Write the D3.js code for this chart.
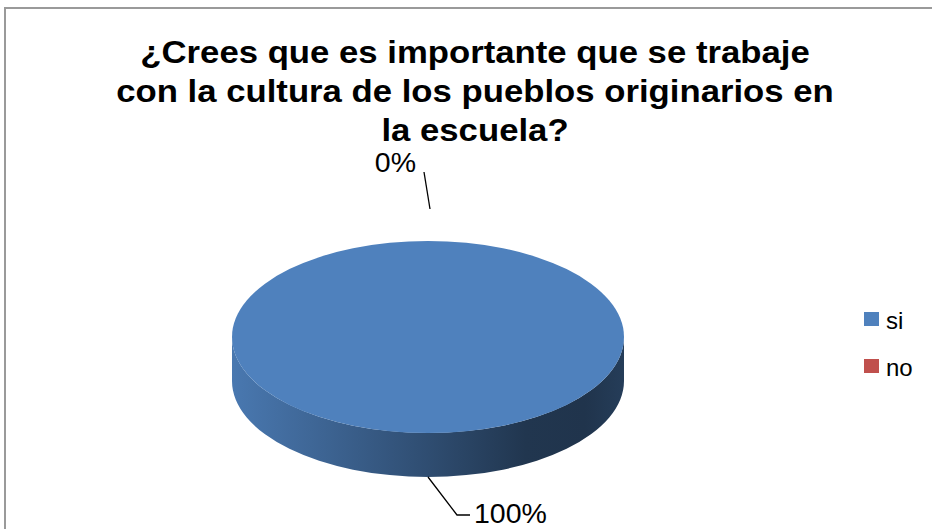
<!DOCTYPE html>
<html>
<head>
<meta charset="utf-8">
<script src="https://cdn.jsdelivr.net/npm/d3@7/dist/d3.min.js"></script>
<style>
  html, body { margin: 0; padding: 0; background: #fff; }
  svg { display: block; }
  text { font-family: "Liberation Sans", Arial, sans-serif; fill: #000; }
</style>
</head>
<body>
<svg id="chart" width="932" height="529"></svg>
<script>
// Survey answers
const categories = ["si", "no"];
const values = [100, 0];
const colors = ["#4F81BD", "#C0504D"];
const titleLines = [
  "¿Crees que es importante que se trabaje",
  "con la cultura de los pueblos originarios en",
  "la escuela?"
];

const W = 932, H = 529;
const svg = d3.select("#chart");

// chart frame
svg.append("rect")
  .attr("x", 5).attr("y", 8)
  .attr("width", W + 100).attr("height", H + 100)
  .attr("fill", "#fff")
  .attr("stroke", "#9a9a9a").attr("stroke-width", 2);

// title (slightly widened lettering)
const titleX = 475, titleSX = 1.12;
const title = svg.append("text")
  .attr("text-anchor", "middle")
  .attr("transform", `translate(${titleX},0) scale(${titleSX},1)`)
  .style("font-weight", "bold")
  .style("font-size", "31px");
titleLines.forEach((t, i) => {
  title.append("tspan").attr("x", 0).attr("y", 63 + i * 39).text(t);
});

// 3D pie geometry
const cx = 428, cy = 337, rx = 196, ry = 96, depth = 44;
const total = d3.sum(values);
const pct = d3.format(".0%");

const pie = d3.pie().sort(null).value(d => d.v);
const arcs = pie(categories.map((c, i) => ({ c, v: values[i], i })));

const px = a => cx + rx * Math.sin(a);
const py = a => cy - ry * Math.cos(a);

// side wall shading
const defs = svg.append("defs");
const grads = colors.map((col, i) => {
  const base = d3.color(col);
  const g = defs.append("linearGradient")
    .attr("id", "side" + i)
    .attr("gradientUnits", "userSpaceOnUse")
    .attr("x1", cx - rx).attr("x2", cx + rx).attr("y1", 0).attr("y2", 0);
  const stops = [[0, 0.93], [0.2, 0.8], [0.5, 0.6], [0.75, 0.42], [0.9, 0.4], [1, 0.47]];
  stops.forEach(([o, k]) => {
    const c = d3.rgb(base.r * k, base.g * k, base.b * k);
    g.append("stop").attr("offset", o).attr("stop-color", c.formatHex());
  });
  return "url(#side" + i + ")";
});

// front-facing part of each slice's side wall
const sideG = svg.append("g");
arcs.forEach(d => {
  const s = Math.max(d.startAngle, Math.PI / 2);
  const e = Math.min(d.endAngle, 3 * Math.PI / 2);
  if (e <= s) return;
  const large = (e - s) > Math.PI ? 1 : 0;
  const path =
    `M${px(s)},${py(s)}` +
    `A${rx},${ry} 0 ${large} 1 ${px(e)},${py(e)}` +
    `L${px(e)},${py(e) + depth}` +
    `A${rx},${ry} 0 ${large} 0 ${px(s)},${py(s) + depth}Z`;
  sideG.append("path").attr("d", path).attr("fill", grads[d.data.i]);
});

// top face
const arc = d3.arc().innerRadius(0).outerRadius(rx);
svg.append("g")
  .attr("transform", `translate(${cx},${cy}) scale(1,${ry / rx})`)
  .selectAll("path")
  .data(arcs)
  .join("path")
  .attr("d", arc)
  .attr("fill", d => colors[d.data.i]);

// data labels with leader lines
const labelG = svg.append("g");
arcs.forEach(d => {
  const a = (d.startAngle + d.endAngle) / 2;
  const front = Math.cos(a) < 0;
  const ax = px(a), ay = py(a) + (front ? depth : 0);
  const txt = pct(d.data.v / total);
  let pts, tx, ty, anchor;
  if (front) {
    pts = [[ax, ay], [ax + 29, ay + 38], [ax + 42, ay + 38]];
    tx = ax + 46; ty = ay + 46; anchor = "start";
  } else {
    pts = [[ax + 2, ay - 32], [ax - 4, ay - 69]];
    tx = ax - 12; ty = ay - 69; anchor = "end";
  }
  labelG.append("path")
    .attr("d", d3.line()(pts))
    .attr("fill", "none").attr("stroke", "#000").attr("stroke-width", 1.3);
  labelG.append("text")
    .attr("x", tx).attr("y", ty)
    .attr("text-anchor", anchor)
    .style("font-size", "28.5px")
    .text(txt);
});

// legend
const legend = svg.append("g").attr("transform", "translate(864,312)");
categories.forEach((c, i) => {
  const g = legend.append("g").attr("transform", `translate(0,${i * 47})`);
  g.append("rect").attr("width", 15).attr("height", 14).attr("fill", colors[i]);
  g.append("text").attr("x", 22).attr("y", 17).style("font-size", "24px").text(c);
});
</script>
</body>
</html>
